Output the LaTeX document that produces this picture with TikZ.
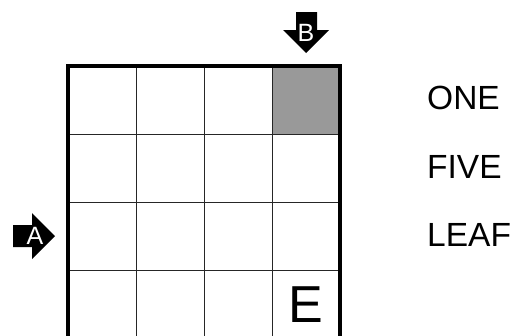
\documentclass[tikz,border=0pt]{standalone}
\usepackage{fontspec}
\setmainfont{Liberation Sans}
\begin{document}
\begin{tikzpicture}[x=1pt,y=-1pt,
  thin line/.style={line width=1pt,draw=black!85},
  thick border/.style={line width=4pt,draw=black},
  arrowshape/.style={fill=black},
  arrowlabel/.style={text=white,inner sep=0pt,font=\fontsize{25}{25}\selectfont},
  word/.style={anchor=base west,inner sep=0pt,font=\fontsize{33.5}{33.5}\selectfont}]
\useasboundingbox (0,0) rectangle (514,335);
\begin{scope}
\clip (0,0) rectangle (514,335);
% gray cell
\fill[fill=black!40] (272,66) rectangle (340,134);
% inner lines
\foreach \x in {136,204,272} \draw[thin line] (\x,66) -- (\x,338);
\foreach \y in {134,202,270} \draw[thin line] (68,\y) -- (340,\y);
% outer border
\draw[thick border] (68,66) rectangle (340,338);
\end{scope}
% arrow A
\fill[arrowshape] (13,225) -- (32,225) -- (32,213) -- (55,236) -- (32,259) -- (32,247) -- (13,247) -- cycle;
\node[arrowlabel] (A) at (35,236) {A};
% arrow B
\fill[arrowshape] (296,12) -- (317,12) -- (317,30) -- (329,30) -- (306,53) -- (283,30) -- (296,30) -- cycle;
\node[arrowlabel] (B) at (306,33) {B};
% E
\node[inner sep=0pt,anchor=base,font=\fontsize{52}{52}\selectfont] (E) at (306,322) {E};
% words
\node[word] (one) at (427,109.5) {ONE};
\node[word] (five) at (427,178) {FIVE};
\node[word] (leaf) at (427,246) {LEAF};
\end{tikzpicture}
\end{document}
